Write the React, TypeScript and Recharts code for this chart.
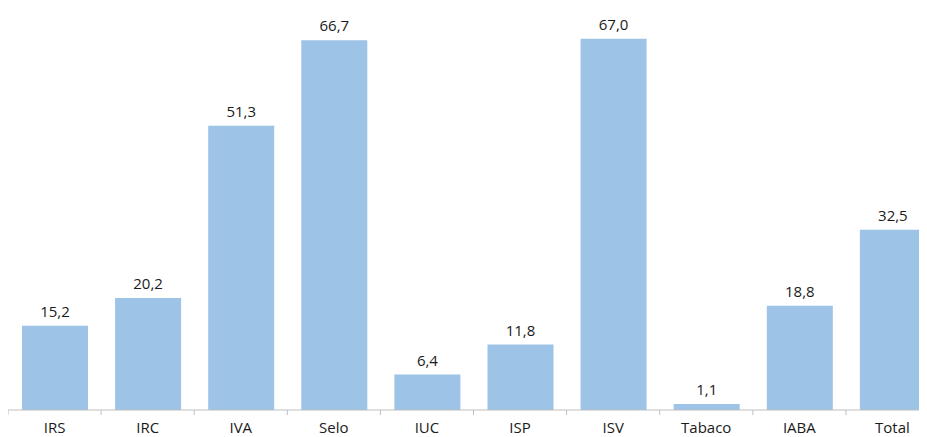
import { BarChart, Bar, XAxis, YAxis, LabelList } from "recharts";

const categories = ["IRS", "IRC", "IVA", "Selo", "IUC", "ISP", "ISV", "Tabaco", "IABA", "Total"];
const values = [15.2, 20.2, 51.3, 66.7, 6.4, 11.8, 67.0, 1.1, 18.8, 32.5];

// category i is centred at i + 0.5 on a 0..10 axis; integers are the boundaries
const data = categories.map((name, i) => ({ name, value: values[i], pos: i + 0.5 }));
const axisTicks = Array.from({ length: 21 }, (_, i) => i / 2);

const FONT = "'Open Sans', sans-serif";
const TEXT = "#1a1a1a";

const fmt = (v: number) => v.toFixed(1).replace(".", ",");

// boundary values get a short gray mark, centre values get the category name
const AxisTick = (props: any) => {
  const { x, y, payload } = props;
  const v = payload.value as number;
  if (Number.isInteger(v)) {
    return <line x1={x} x2={x} y1={y} y2={y + 5} stroke="#bfbfbf" strokeWidth={1} />;
  }
  return (
    <text x={x} y={y + 23} textAnchor="middle" fill={TEXT} fontSize={15} fontFamily={FONT}>
      {categories[Math.floor(v)]}
    </text>
  );
};

const App = () => {
  return (
    <div style={{ width: 919, height: 429, overflow: "hidden", fontFamily: FONT }}>
      <BarChart
        width={931}
        height={429}
        data={data}
        margin={{ top: 14, right: 0, bottom: 0, left: 0 }}
      >
        <XAxis
          type="number"
          dataKey="pos"
          domain={[0, 10]}
          ticks={axisTicks}
          interval={0}
          axisLine={{ stroke: "#bfbfbf" }}
          tickLine={false}
          tick={<AxisTick />}
          tickSize={0}
          tickMargin={0}
          height={27}
        />
        <YAxis hide domain={[0, 70]} />
        <Bar dataKey="value" fill="#9DC3E6" barSize={66} isAnimationActive={false}>
          <LabelList
            dataKey="value"
            position="top"
            offset={9}
            formatter={(v: number) => fmt(v)}
            style={{ fill: TEXT, fontSize: 15, fontFamily: FONT }}
          />
        </Bar>
      </BarChart>
    </div>
  );
};

export default App;
